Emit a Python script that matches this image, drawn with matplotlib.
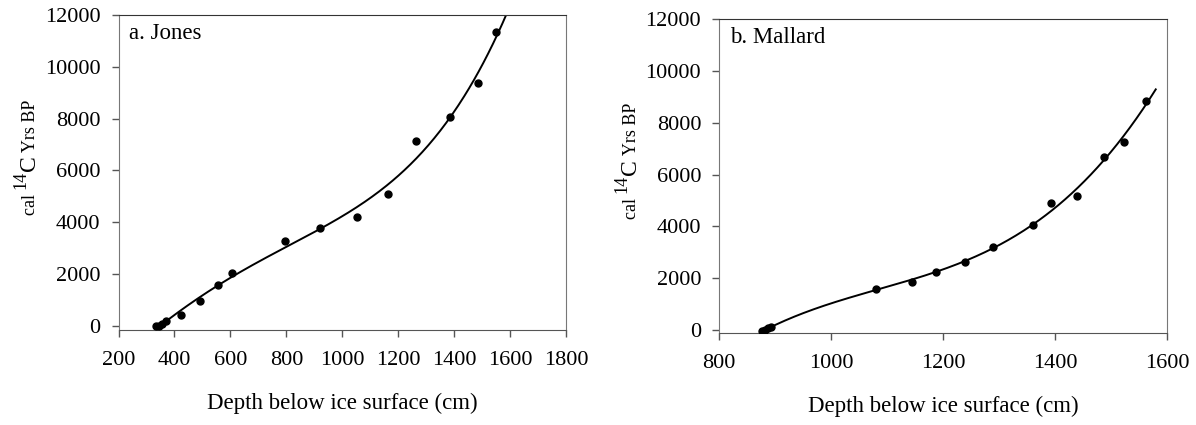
import numpy as np
import matplotlib
matplotlib.use('Agg')
import matplotlib.pyplot as plt
import matplotlib.transforms as mtransforms

plt.rcParams['font.family'] = 'Liberation Serif'

# a. Jones : depth (cm) vs cal 14C yrs BP
jones_depth = [334, 346, 356, 370, 424, 491, 555, 604, 794, 920, 1053, 1163, 1263, 1386, 1484, 1551]
jones_age = [-25, 0, 77, 165, 396, 937, 1553, 2040, 3254, 3768, 4193, 5093, 7138, 8077, 9363, 11340]

# b. Mallard
mallard_depth = [877, 882, 887, 892, 1080, 1144, 1187, 1240, 1289, 1361, 1392, 1440, 1487, 1523, 1563]
mallard_age = [-39, 0, 64, 100, 1597, 1867, 2253, 2614, 3193, 4056, 4893, 5189, 6695, 7274, 8858]

# y label pieces: text, fontsize, rise (px)
ylabel_parts = [('cal ', 13, 0), ('14', 13, 9), ('C', 17, 0), (' Yrs BP', 13, 0)]

panels = [
    {'depth': jones_depth, 'age': jones_age, 'deg': 4, 'xlim': [200, 1800], 'xticks': np.arange(200, 1801, 200),
     'fit_range': [340, 1620], 'title': 'a. Jones', 'ymin': -170,
     'rect': [0.0991, 0.2235, 0.3742, 0.7412]},
    {'depth': mallard_depth, 'age': mallard_age, 'deg': 3, 'xlim': [800, 1600], 'xticks': np.arange(800, 1601, 200),
     'fit_range': [888, 1580], 'title': 'b. Mallard', 'ymin': -104,
     'rect': [0.6014, 0.2172, 0.3743, 0.7374]},
]

fig = plt.figure(figsize=(11.96, 4.25), dpi=100)
renderer = fig.canvas.get_renderer()


def stacked_ylabel(ax, xpos, ypos, parts):
    # rotated label built from pieces so the 14 can be raised
    texts, lengths = [], []
    for s, size, rise in parts:
        t = ax.text(xpos, ypos, s, fontsize=size, rotation=90, rotation_mode='anchor',
                    ha='left', va='baseline', transform=ax.transAxes)
        lengths.append(t.get_window_extent(renderer).height)
        texts.append((t, rise))
    start = -sum(lengths) / 2.
    for (t, rise), L in zip(texts, lengths):
        t.set_transform(mtransforms.offset_copy(ax.transAxes, fig=fig, x=-rise, y=start, units='dots'))
        start += L


for p in panels:
    ax = fig.add_axes(p['rect'])
    x = np.array(p['depth'], float)
    y = np.array(p['age'], float)
    # polynomial trendline through the dates
    coef = np.polyfit(x, y, p['deg'])
    xf = np.linspace(p['fit_range'][0], p['fit_range'][1], 300)
    ax.plot(xf, np.polyval(coef, xf), color='black', lw=1.4, zorder=2)
    ax.plot(x, y, 'o', color='black', ms=5, zorder=3)

    ax.set_xlim(p['xlim'])
    ax.set_ylim(p['ymin'], 12000)
    ax.set_xticks(p['xticks'])
    ax.set_yticks(np.arange(0, 12001, 2000))
    ax.tick_params(direction='out', length=5, width=1, labelsize=16, colors='#555555', labelcolor='black')
    ax.tick_params(axis='x', pad=10)
    ax.tick_params(axis='y', pad=8)
    ax.spines['left'].set_color('#777777')
    ax.spines['bottom'].set_color('#555555')
    ax.spines['top'].set_color('#333333')
    ax.spines['right'].set_color('#777777')
    ax.set_xlabel('Depth below ice surface (cm)', fontsize=16.5)
    ax.xaxis.set_label_coords(0.5, -0.2)
    stacked_ylabel(ax, -0.187, 0.549, ylabel_parts)
    ax.text(0.024, 0.975, p['title'], transform=ax.transAxes, fontsize=16.5, va='top', ha='left')

fig.savefig('out.png', dpi=100)
